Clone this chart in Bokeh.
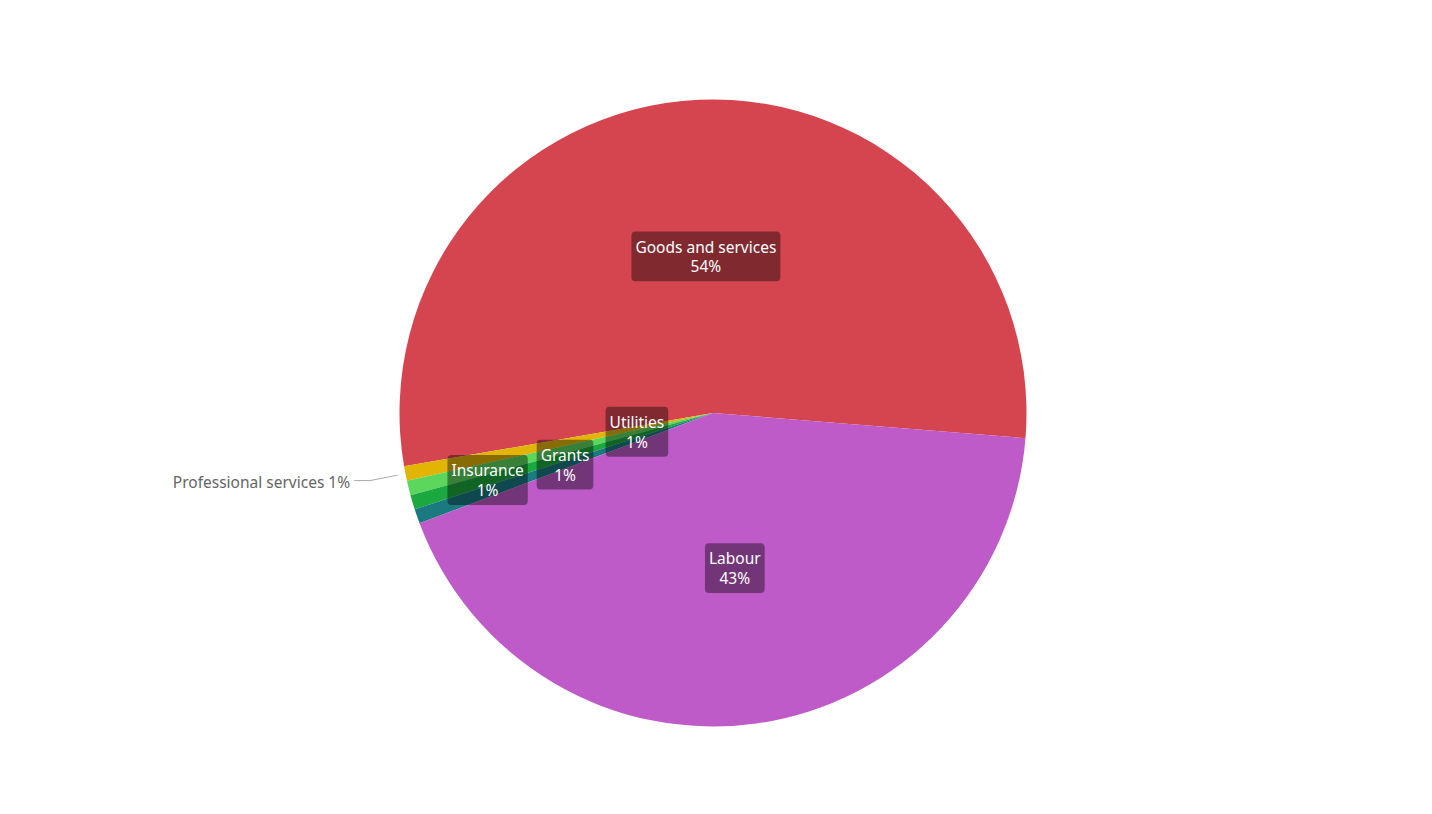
import math
from bokeh.plotting import figure
from bokeh.models import Label, Range1d
from bokeh.embed import file_html
from bokeh.resources import INLINE

# ---- data ----
categories = ["Goods and services", "Professional services", "Utilities", "Insurance", "Grants", "Labour"]
values = [54.0, 0.75, 0.75, 0.75, 0.75, 43.0]
colors = ["#d5454f", "#e2b404", "#5dd65e", "#1ba83e", "#1b7a80", "#be5bc8"]
label_radius_frac = [0.5, None, 0.25, 0.75, 0.5, 0.5]  # None -> outside label

W, H = 1432, 814
cx, cy = 712.5, H - 412.5
R = 313.5
start_deg = -4.6

p = figure(width=W, height=H, output_backend="svg", toolbar_location=None,
           x_range=Range1d(0, W), y_range=Range1d(0, H), min_border=0)
p.axis.visible = False
p.grid.visible = False
p.outline_line_color = None
p.background_fill_color = "white"
p.border_fill_color = "white"

total = sum(values)
angles = []
a = math.radians(start_deg)
for v in values:
    span = 2 * math.pi * v / total
    angles.append((a, a + span))
    a += span

p.wedge(x=[cx] * len(values), y=[cy] * len(values), radius=R,
        start_angle=[s for s, e in angles], end_angle=[e for s, e in angles],
        fill_color=colors, line_color=None)

FONT = "Noto Sans"
for cat, v, (s, e), frac in zip(categories, values, angles, label_radius_frac):
    mid = (s + e) / 2
    dx, dy = math.cos(mid), math.sin(mid)
    pct = f"{round(v / total * 100)}%"
    if frac is not None:
        lx, ly = cx + frac * R * dx, cy + frac * R * dy
        p.add_layout(Label(x=lx, y=ly, text=f"{cat}\n{pct}", text_align="center",
                           text_baseline="middle", text_color="white",
                           text_font_size="15.5px", text_font=FONT, text_line_height=0.9,
                           background_fill_color="black", background_fill_alpha=0.4,
                           border_radius=4, padding=4))
    else:
        x1, y1 = cx + (R + 8) * dx, cy + (R + 8) * dy
        x2, y2 = x1 + 28 * dx, y1 + 28 * dy
        x3 = x2 - 16
        p.line([x1, x2, x3], [y1, y2, y2], line_color="#aaaaaa", line_width=1)
        p.add_layout(Label(x=x3 - 4, y=y2 - 1.5, text=f"{cat} {pct}", text_align="right",
                           text_baseline="middle", text_color="#666666",
                           text_font_size="15.5px", text_font=FONT))

open("out.html", "w").write(file_html(p, INLINE))
